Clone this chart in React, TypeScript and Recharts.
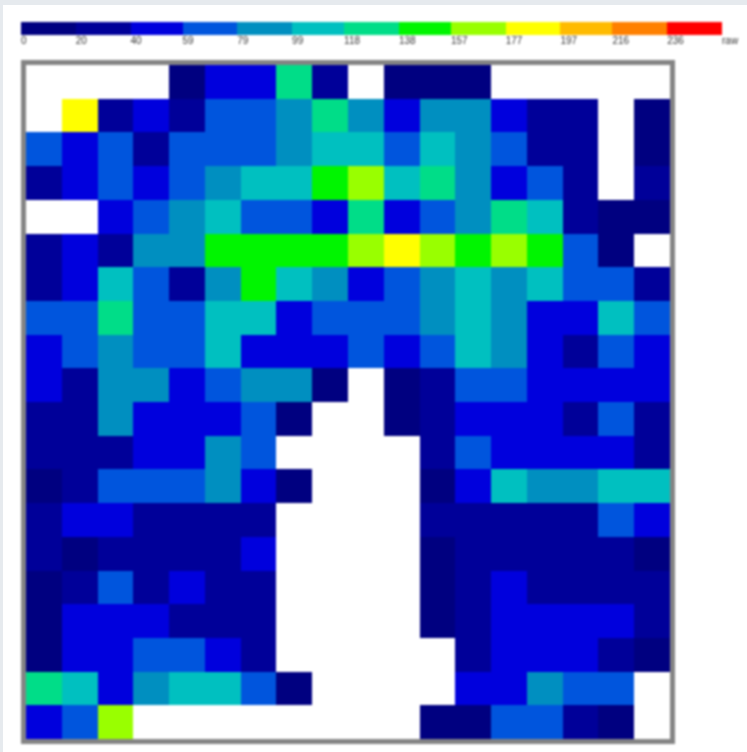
import React from 'react';
import { BarChart, Bar, Cell, XAxis, YAxis } from 'recharts';

// upper bin edges of the colour key, "raw" sits at the last one
const BIN_EDGES = [0, 20, 40, 59, 79, 99, 118, 138, 157, 177, 197, 216, 236, 256];
const BIN_COLORS = [
  '#000080', '#000099', '#0000dd', '#0055dd', '#008fc0', '#00c0c0', '#00dd88',
  '#00f500', '#99ff00', '#ffff00', '#ffbb00', '#ff8000', '#ff0000',
];

const _ = null;

// raw values, row by row from the top (mid-bin estimates read from the colours)
const GRID: (number | null)[][] = [
  [_, _, _, _, 10, 50, 50, 128, 30, _, 10, 10, 10, _, _, _, _, _],
  [_, 187, 30, 50, 30, 69, 69, 89, 128, 89, 50, 89, 89, 50, 30, 30, _, 10],
  [69, 50, 69, 30, 69, 69, 69, 89, 108, 108, 69, 108, 89, 69, 30, 30, _, 10],
  [30, 50, 69, 50, 69, 89, 108, 108, 147, 167, 108, 128, 89, 50, 69, 30, _, 30],
  [_, _, 50, 69, 89, 108, 69, 69, 50, 128, 50, 69, 89, 128, 108, 30, 10, 10],
  [30, 50, 30, 89, 89, 147, 147, 147, 147, 167, 187, 167, 147, 167, 147, 69, 10, _],
  [30, 50, 108, 69, 30, 89, 147, 108, 89, 50, 69, 89, 108, 89, 108, 69, 69, 30],
  [69, 69, 128, 69, 69, 108, 108, 50, 69, 69, 69, 89, 108, 89, 50, 50, 108, 69],
  [50, 69, 89, 69, 69, 108, 50, 50, 50, 69, 50, 69, 108, 89, 50, 30, 69, 50],
  [50, 30, 89, 89, 50, 69, 89, 89, 10, _, 10, 30, 69, 69, 50, 50, 50, 50],
  [30, 30, 89, 50, 50, 50, 69, 10, _, _, 10, 30, 50, 50, 50, 30, 69, 30],
  [30, 30, 30, 50, 50, 89, 69, _, _, _, _, 30, 69, 50, 50, 50, 50, 30],
  [10, 30, 69, 69, 69, 89, 50, 10, _, _, _, 10, 50, 108, 89, 89, 108, 108],
  [30, 50, 50, 30, 30, 30, 30, _, _, _, _, 30, 30, 30, 30, 30, 69, 50],
  [30, 10, 30, 30, 30, 30, 50, _, _, _, _, 10, 30, 30, 30, 30, 30, 10],
  [10, 30, 69, 30, 50, 30, 30, _, _, _, _, 10, 30, 50, 30, 30, 30, 30],
  [10, 50, 50, 50, 30, 30, 30, _, _, _, _, 10, 30, 50, 50, 50, 50, 30],
  [10, 50, 50, 69, 69, 50, 30, _, _, _, _, _, 30, 50, 50, 50, 30, 10],
  [128, 108, 50, 89, 108, 108, 69, 10, _, _, _, _, 50, 50, 89, 69, 69, _],
  [50, 69, 167, _, _, _, _, _, _, _, _, 10, 10, 69, 69, 30, 10, _],
];

const rowKeys = GRID.map((_row, r) => `row${r}`);
const columns = GRID[0].map((_v, c) => c);

// each column is one stack of equally tall cells
const gridData = columns.map((c) => {
  const item: Record<string, number> = { col: c };
  rowKeys.forEach((k) => { item[k] = 1; });
  return item;
});

const keyData = [
  BIN_COLORS.reduce((acc, _c, i) => {
    acc[`bin${i}`] = BIN_EDGES[i + 1] - BIN_EDGES[i];
    return acc;
  }, { name: 'key' } as Record<string, number | string>),
];

const colorOf = (v: number | null) => {
  if (v === null) return '#ffffff';
  let i = BIN_COLORS.length - 1;
  while (i > 0 && v < BIN_EDGES[i]) i--;
  return BIN_COLORS[i];
};

const KeyTick = ({ x, y, payload }: any) => (
  <text x={x} y={y} dy={1} fontSize={10} fontFamily="Liberation Sans, Arial, sans-serif" fill="#333">
    {payload.value === 256 ? 'raw' : payload.value}
  </text>
);

export default function App() {
  return (
    <div style={{ position: 'fixed', left: 0, top: 0, width: 747, height: 752, background: '#e6eaee', overflow: 'hidden' }}>
      <style>{'.crisp path, .crisp rect { shape-rendering: crispEdges; }'}</style>
      <div style={{ position: 'absolute', left: 3, top: 5, width: 744, height: 747, background: '#fff' }} />
      <div style={{ position: 'absolute', left: 0, top: 0, width: 747, height: 752, filter: 'blur(0.8px)' }}>
        <div className="crisp" style={{ position: 'absolute', left: 21, top: 22 }}>
          <BarChart
            layout="vertical"
            width={726}
            height={30}
            data={keyData}
            margin={{ top: 0, right: 25, bottom: 0, left: 0 }}
            barCategoryGap={0}
          >
            <XAxis
              type="number"
              domain={[0, 256]}
              ticks={BIN_EDGES}
              interval={0}
              height={17}
              axisLine={false}
              tickLine={false}
              tick={<KeyTick />}
              allowDataOverflow
            />
            <YAxis type="category" dataKey="name" hide />
            {BIN_COLORS.map((c, i) => (
              <Bar key={c} dataKey={`bin${i}`} stackId="key" fill={c} isAnimationActive={false} />
            ))}
          </BarChart>
        </div>

        <div className="crisp" style={{ position: 'absolute', left: 21, top: 60, width: 644, height: 674, border: '5px solid #848484' }}>
          <BarChart
            width={644}
            height={674}
            data={gridData}
            margin={{ top: 0, right: 0, bottom: 0, left: 0 }}
            barCategoryGap={0}
            barGap={0}
          >
            <XAxis dataKey="col" hide />
            <YAxis type="number" domain={[0, GRID.length]} reversed hide />
            {rowKeys.map((k, r) => (
              <Bar key={k} dataKey={k} stackId="grid" isAnimationActive={false}>
                {columns.map((c) => (
                  <Cell key={c} fill={colorOf(GRID[r][c])} />
                ))}
              </Bar>
            ))}
          </BarChart>
        </div>
      </div>
    </div>
  );
}
